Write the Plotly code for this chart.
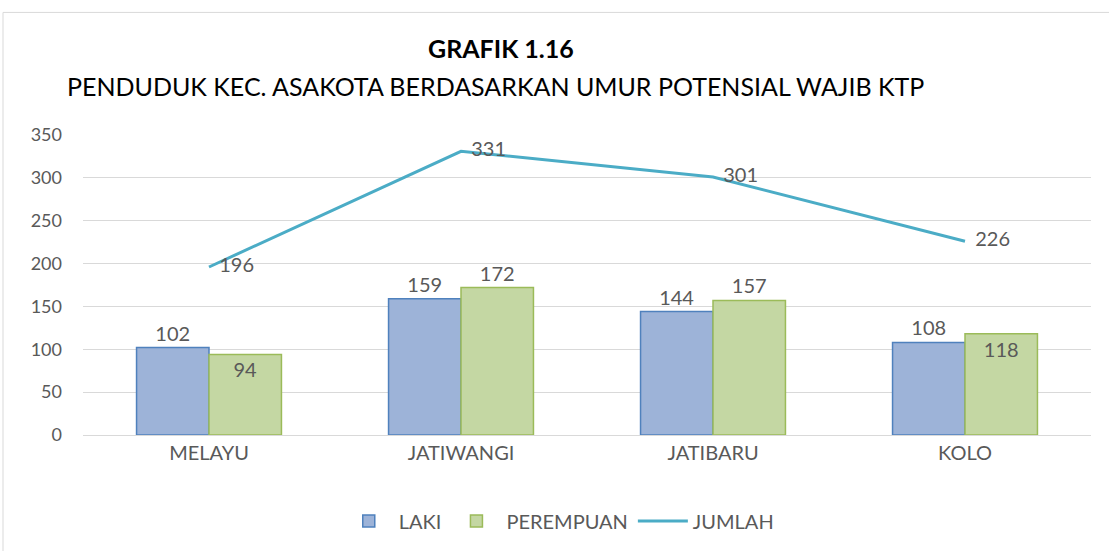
import plotly.graph_objects as go

categories = ["MELAYU", "JATIWANGI", "JATIBARU", "KOLO"]
laki = [102, 159, 144, 108]
perempuan = [94, 172, 157, 118]
jumlah = [196, 331, 301, 226]
y_ticks = [0, 50, 100, 150, 200, 250, 300, 350]

FONT = "Lato"
GREY = "#595959"

fig = go.Figure()
fig.add_trace(go.Bar(
    x=categories, y=laki, name="LAKI",
    marker=dict(color="#9DB3D8", line=dict(color="#4F81BD", width=1.5)),
    text=laki, textposition="outside",
    textfont=dict(family=FONT, size=20, color=GREY),
    cliponaxis=False,
))
fig.add_trace(go.Bar(
    x=categories, y=perempuan, name="PEREMPUAN",
    marker=dict(color="#C4D7A3", line=dict(color="#9BBB59", width=1.5)),
    text=perempuan, textposition=["inside", "outside", "outside", "inside"],
    insidetextanchor="end",
    textfont=dict(family=FONT, size=20, color=GREY),
    cliponaxis=False,
))
fig.add_trace(go.Scatter(
    x=categories, y=jumlah, name="JUMLAH", mode="lines+text",
    line=dict(color="#4BACC6", width=3),
    text=["  " + str(v) for v in jumlah], textposition="middle right",
    textfont=dict(family=FONT, size=20, color=GREY),
    cliponaxis=False,
))

fig.update_layout(
    width=1109, height=551,
    margin=dict(l=83, r=18, t=135, b=115),
    paper_bgcolor="white", plot_bgcolor="white",
    barmode="group", bargap=0.425, bargroupgap=0,
    font=dict(family=FONT, color=GREY, size=18),
    showlegend=True,
    legend=dict(orientation="h", x=0.472, xanchor="center", y=-0.282, yanchor="middle",
                font=dict(family=FONT, size=20, color=GREY), traceorder="normal",
                itemwidth=50),
    xaxis=dict(showgrid=False, showline=True, linecolor="#D9D9D9", linewidth=1,
               tickfont=dict(family=FONT, size=20, color=GREY), ticks=""),
    yaxis=dict(range=[0, 350], tickvals=y_ticks, showgrid=True, gridcolor="#D9D9D9",
               gridwidth=1, zeroline=False, showline=False,
               tickfont=dict(family=FONT, size=18, color=GREY), ticklabelstandoff=20),
    annotations=[
        dict(text="<b>GRAFIK 1.16</b>", xref="paper", yref="paper",
             x=(501 - 83) / 1008, y=(436 - 48) / 301, xanchor="center", yanchor="middle",
             showarrow=False, font=dict(family=FONT, size=25, color="black")),
        dict(text="PENDUDUK KEC. ASAKOTA BERDASARKAN UMUR POTENSIAL WAJIB KTP", xref="paper", yref="paper",
             x=(495 - 83) / 1008, y=(436 - 86) / 301, xanchor="center", yanchor="middle",
             showarrow=False, font=dict(family=FONT, size=25, color="black")),
    ],
    shapes=[dict(type="rect", xref="paper", yref="paper",
                 x0=(3 - 83) / 1008, x1=(1115 - 83) / 1008,
                 y0=(436 - 12) / 301, y1=(436 - 560) / 301,
                 line=dict(color="#D9D9D9", width=1), fillcolor="rgba(0,0,0,0)", layer="below")],
)

fig.write_html("out.html", config={"displayModeBar": False},
               post_script="document.body.style.margin='0';document.body.style.padding='0';")
